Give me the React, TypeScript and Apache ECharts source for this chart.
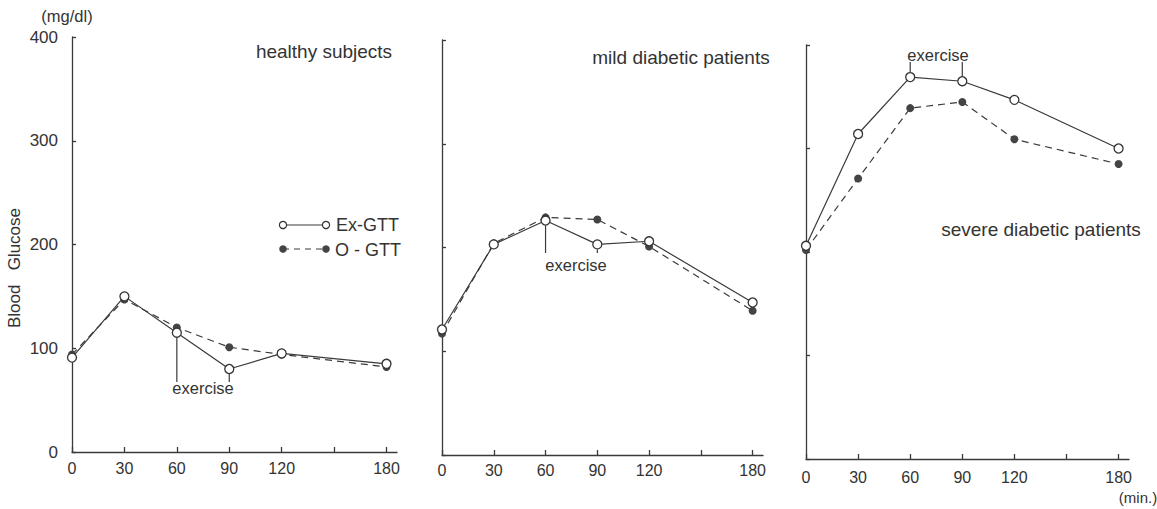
import React, { useEffect, useRef } from "react";
import * as echarts from "echarts";

// ---- data ----
const times = [0, 30, 60, 90, 120, 180];
const xTickValues = [0, 30, 60, 90, 120, 150, 180];
const xLabelValues = [0, 30, 60, 90, 120, 180];

const healthyEx = [91, 150, 115, 80, 95, 85];
const healthyO = [94, 147, 120, 101, 94, 82];
const mildEx = [121, 203, 226, 203, 206, 147];
const mildO = [117, 204, 229, 227, 201, 139];
const severeEx = [206, 314, 369, 365, 347, 300];
const severeO = [202, 271, 339, 345, 309, 285];

const panelTitles = ["healthy subjects", "mild diabetic patients", "severe diabetic patients"];
const seriesNames = ["Ex-GTT", "O - GTT"];
const exValues = [healthyEx, mildEx, severeEx];
const oValues = [healthyO, mildO, severeO];

// ---- layout ----
const FONT = '"Liberation Sans", Arial, sans-serif';
const INK = "#333";
const LINE = "#3a3a3a";
const grids = [
  { left: 72, top: 37, width: 325, height: 415, yOff: 10, xOff: 2 },
  { left: 442, top: 40, width: 321, height: 415, yOff: 11, xOff: 1 },
  { left: 806, top: 45, width: 323, height: 414, yOff: 11, xOff: 4 },
];
const titlePos = [
  { x: 324, y: 51 },
  { x: 681, y: 57 },
  { x: 1041, y: 229 },
];
// exercise annotations: which time points, where the label sits, where the lines end
const exerciseNotes = [
  { panel: 0, idx: [2, 3], dir: 1, endY: 382, tx: 203, ty: 388 },
  { panel: 1, idx: [2, 3], dir: 1, endY: 253, tx: 576, ty: 265 },
  { panel: 2, idx: [2, 3], dir: -1, endY: 62, tx: 938, ty: 55 },
];

export default function App() {
  const ref = useRef<HTMLDivElement>(null);
  useEffect(() => {
    const chart = echarts.init(ref.current!, null, { renderer: "svg" });
    const axisLineStyle = { color: LINE, width: 1.3 };

    const xAxis = grids.map((g, i) => ({
      type: "value",
      gridIndex: i,
      min: 0,
      max: 186,
      offset: g.xOff,
      axisLine: { show: true, lineStyle: axisLineStyle },
      axisTick: { show: true, inside: true, length: 5, customValues: xTickValues, lineStyle: axisLineStyle },
      axisLabel: { show: true, customValues: xLabelValues, fontSize: 16, color: INK, fontFamily: FONT, margin: 6 },
      splitLine: { show: false },
    }));
    const yAxis = grids.map((g, i) => ({
      type: "value",
      gridIndex: i,
      min: 0,
      max: 400,
      interval: 100,
      offset: g.yOff,
      axisLine: { show: true, lineStyle: axisLineStyle },
      axisTick: { show: true, inside: true, length: 4, lineStyle: axisLineStyle },
      axisLabel: { show: i === 0, fontSize: 17, color: INK, fontFamily: FONT, margin: 4 },
      splitLine: { show: false },
    }));

    const series: any[] = [];
    grids.forEach((_, i) => {
      series.push({
        type: "line",
        name: seriesNames[1],
        xAxisIndex: i,
        yAxisIndex: i,
        data: times.map((t, k) => [t, oValues[i][k]]),
        symbol: "circle",
        symbolSize: 8,
        itemStyle: { color: "#444" },
        lineStyle: { color: LINE, width: 1.2, type: [7, 5] },
        z: 2,
      });
      series.push({
        type: "line",
        name: seriesNames[0],
        xAxisIndex: i,
        yAxisIndex: i,
        data: times.map((t, k) => [t, exValues[i][k]]),
        symbol: "circle",
        symbolSize: 9,
        itemStyle: { color: "#fff", borderColor: "#333", borderWidth: 1.3 },
        lineStyle: { color: LINE, width: 1.2 },
        z: 3,
      });
    });

    chart.setOption({
      animation: false,
      backgroundColor: "#fff",
      grid: grids.map((g) => ({ left: g.left, top: g.top, width: g.width, height: g.height })),
      xAxis,
      yAxis,
      series,
    });

    const txt = (text: string, x: number, y: number, size: number, align = "center", rotation = 0) => ({
      type: "text",
      x,
      y,
      rotation,
      silent: true,
      style: { text, fill: INK, fontSize: size, fontFamily: FONT, align, verticalAlign: "middle" },
    });
    const ln = (x1: number, y1: number, x2: number, y2: number, dash?: number[]) => ({
      type: "line",
      silent: true,
      shape: { x1, y1, x2, y2 },
      style: { stroke: LINE, lineWidth: 1.2, lineDash: dash },
    });

    const graphic: any[] = [];
    panelTitles.forEach((t, i) => graphic.push(txt(t, titlePos[i].x, titlePos[i].y, 19)));
    graphic.push(txt("(mg/dl)", 67, 16, 16.5));
    graphic.push(txt("(min.)", 1138, 497, 15));
    graphic.push(txt("Blood   Glucose", 14, 268, 17, "center", Math.PI / 2));

    // legend
    graphic.push(ln(283, 225, 326, 225));
    graphic.push(ln(283, 249, 326, 249, [6, 5]));
    [283, 326].forEach((cx) => {
      graphic.push({ type: "circle", silent: true, shape: { cx, cy: 225, r: 3.6 }, style: { fill: "#fff", stroke: "#333", lineWidth: 1.2 } });
      graphic.push({ type: "circle", silent: true, shape: { cx, cy: 249, r: 3.8 }, style: { fill: "#444" } });
    });
    graphic.push(txt(seriesNames[0], 336, 225, 18, "left"));
    graphic.push(txt(seriesNames[1], 335, 250, 18, "left"));

    // exercise annotations
    exerciseNotes.forEach((n) => {
      n.idx.forEach((k) => {
        const p = chart.convertToPixel({ xAxisIndex: n.panel, yAxisIndex: n.panel }, [times[k], exValues[n.panel][k]]) as number[];
        const startY = p[1] + n.dir * 5;
        graphic.push(ln(p[0], startY, p[0], n.endY));
      });
      graphic.push(txt("exercise", n.tx, n.ty, 16.5));
    });

    chart.setOption({ graphic });

    return () => chart.dispose();
  }, []);
  return (
    <div
      ref={ref}
      style={{ position: "absolute", left: 0, top: 0, width: 1157, height: 509, background: "#fff" }}
    />
  );
}
